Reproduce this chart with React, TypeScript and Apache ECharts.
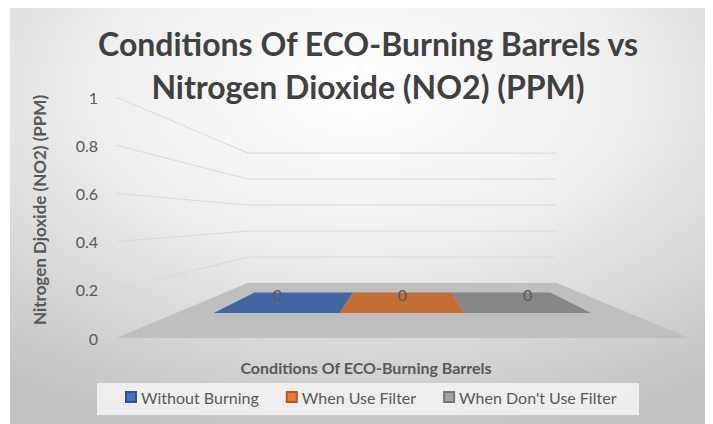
import React, { useEffect, useRef } from 'react';
import * as echarts from 'echarts';

// ---- data ----
const categories = ['Conditions Of ECO-Burning Barrels'];
const seriesNames = ['Without Burning', 'When Use Filter', "When Don't Use Filter"];
const withoutBurning = [0];
const whenUseFilter = [0];
const whenDontUseFilter = [0];
const yTickValues = [0, 0.2, 0.4, 0.6, 0.8, 1];
const titleText = 'Conditions Of ECO-Burning Barrels vs\nNitrogen Dioxide (NO2) (PPM)';
const yAxisTitle = 'Nitrogen Djoxide (NO2) (PPM)';
const xAxisTitle = 'Conditions Of ECO-Burning Barrels';

// ---- styles ----
const legendColors = ['#4472C4', '#ED7D31', '#A5A5A5'];
const legendBorders = ['#2F528F', '#AE5A21', '#787878'];
const faceColors = ['#4366A4', '#C26E37', '#868686'];
const FONT = 'Lato, "Open Sans", sans-serif';

// perspective constants
const BACK_K = 0.539;
const VY = 210.7;
const BAR_BACK_K = 0.619;
const BAR_FRONT_K = 0.79;
const LABEL_K = 0.785;
const BAR_FRAC = 0.278;

const seriesData = [withoutBurning, whenUseFilter, whenDontUseFilter];

export default function App() {
  const ref = useRef<HTMLDivElement>(null);
  useEffect(() => {
    if (!ref.current) return;
    const chart = echarts.init(ref.current, undefined, { renderer: 'svg' });

    const proj = (cx: number, x: number, y: number, k: number) => [cx + k * (x - cx), VY + k * (y - VY)];

    const gridSeries = {
      type: 'custom',
      name: '__grid',
      z: 1,
      silent: true,
      data: yTickValues.map((v) => [0, v]),
      renderItem: (params: any, api: any) => {
        const v = api.value(1);
        const pt = api.coord([api.value(0), v]);
        const cx = pt[0];
        const y = pt[1];
        const bw = api.size([1, 0])[0];
        const left = cx - bw / 2;
        const right = cx + bw / 2;
        return {
          type: 'polyline',
          shape: { points: [[left, y], proj(cx, left, y, BACK_K), proj(cx, right, y, BACK_K)] },
          style: { stroke: '#d9d9d9', lineWidth: 1, fill: null },
        };
      },
    };

    const floorSeries = {
      type: 'custom',
      name: '__floor',
      z: 2,
      silent: true,
      data: [[0, 0]],
      renderItem: (params: any, api: any) => {
        const pt = api.coord([0, 0]);
        const cx = pt[0];
        const y = pt[1];
        const bw = api.size([1, 0])[0];
        const left = cx - bw / 2;
        const right = cx + bw / 2;
        return {
          type: 'polygon',
          shape: { points: [[left, y], [right, y], proj(cx, right, y, BACK_K), proj(cx, left, y, BACK_K)] },
          style: { fill: '#bfbfbf' },
        };
      },
    };

    const barSeries = seriesNames.map((name, i) => ({
      type: 'custom',
      name,
      z: 3,
      itemStyle: { color: legendColors[i], borderColor: legendBorders[i], borderWidth: 1 },
      data: seriesData[i].map((v, ci) => [ci, v]),
      renderItem: (params: any, api: any) => {
        const ci = api.value(0);
        const v = api.value(1);
        const top = api.coord([ci, v]);
        const base = api.coord([ci, 0]);
        const cx = top[0];
        const yTop = top[1];
        const yBase = base[1];
        const bw = api.size([1, 0])[0];
        const w = bw * BAR_FRAC;
        const x0 = cx - 1.5 * w + i * w;
        const x1 = x0 + w;
        const children: any[] = [];
        if (yBase - yTop > 0.5) {
          children.push({
            type: 'polygon',
            shape: { points: [proj(cx, x0, yBase, BAR_FRONT_K), proj(cx, x1, yBase, BAR_FRONT_K), proj(cx, x1, yTop, BAR_FRONT_K), proj(cx, x0, yTop, BAR_FRONT_K)] },
            style: { fill: faceColors[i] },
          });
        }
        children.push({
          type: 'polygon',
          shape: { points: [proj(cx, x0, yTop, BAR_BACK_K), proj(cx, x1, yTop, BAR_BACK_K), proj(cx, x1, yTop, BAR_FRONT_K), proj(cx, x0, yTop, BAR_FRONT_K)] },
          style: { fill: faceColors[i] },
        });
        const lx = proj(cx, (x0 + x1) / 2, yTop, LABEL_K)[0];
        const ly = proj(cx, (x0 + x1) / 2, yTop, BAR_BACK_K)[1] + 2;
        children.push({
          type: 'text',
          x: lx,
          y: ly,
          style: {
            text: String(v),
            fill: '#5a5a5a',
            font: `16px ${FONT}`,
            align: 'center',
            verticalAlign: 'middle',
          },
        });
        return { type: 'group', children };
      },
    }));

    chart.setOption({
      animation: false,
      title: {
        text: titleText,
        left: 358,
        top: 14,
        padding: 0,
        textAlign: 'center',
        textStyle: { fontSize: 32, fontWeight: 'bold', color: '#404040', lineHeight: 43, fontFamily: FONT },
      },
      grid: { left: 106, right: 21, top: 89, bottom: 86 },
      xAxis: {
        type: 'category',
        data: categories,
        axisLine: { show: false },
        axisTick: { show: false },
        axisLabel: { show: false },
        splitLine: { show: false },
      },
      yAxis: {
        type: 'value',
        min: 0,
        max: 1,
        interval: 0.2,
        axisLine: { show: false },
        axisTick: { show: false },
        splitLine: { show: false },
        axisLabel: { margin: 18, color: '#595959', fontSize: 16, fontFamily: FONT },
      },
      legend: {
        data: seriesNames,
        left: 115,
        top: 381,
        padding: 0,
        itemGap: 27,
        itemWidth: 10,
        itemHeight: 10,
        icon: 'rect',
        textStyle: { color: '#595959', fontSize: 16, fontFamily: FONT },
      },
      graphic: [
        {
          type: 'rect',
          z: -10,
          silent: true,
          shape: { x: 0, y: 0, width: 700, height: 416 },
          style: {
            fill: {
              type: 'radial',
              x: 0.5,
              y: 0.2,
              r: 0.85,
              colorStops: [
                { offset: 0, color: '#ffffff' },
                { offset: 0.45, color: '#eeeeee' },
                { offset: 1, color: '#c2c2c2' },
              ],
            },
          },
        },
        {
          type: 'rect',
          z: -5,
          silent: true,
          shape: { x: 87, y: 375, width: 542, height: 32 },
          style: { fill: 'rgba(242,242,242,0.9)' },
        },
        {
          type: 'text',
          x: 29,
          y: 202,
          rotation: Math.PI / 2,
          style: { text: yAxisTitle, align: 'center', verticalAlign: 'middle', font: `bold 17px ${FONT}`, fill: '#595959' },
        },
        {
          type: 'text',
          x: 356,
          y: 359,
          style: { text: xAxisTitle, align: 'center', verticalAlign: 'middle', font: `bold 16px ${FONT}`, fill: '#595959' },
        },
      ],
      series: [gridSeries, floorSeries, ...barSeries],
    });
    return () => chart.dispose();
  }, []);
  return <div ref={ref} style={{ width: 700, height: 416, marginLeft: 2 }} />;
}
